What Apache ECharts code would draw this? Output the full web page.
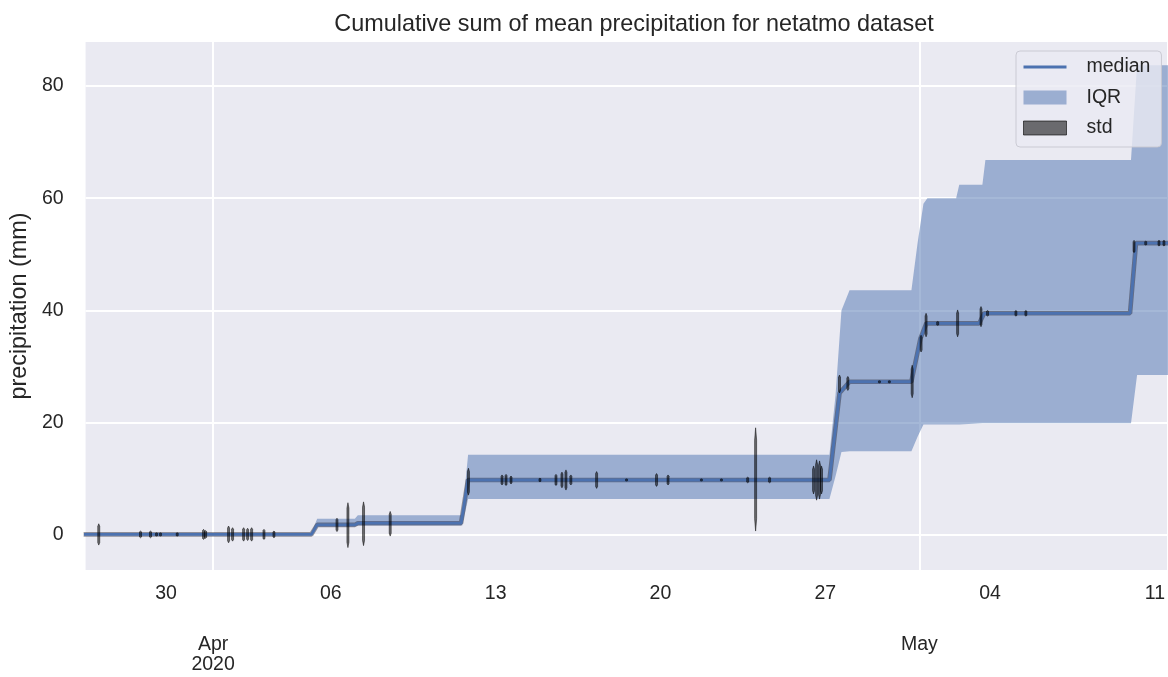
<!DOCTYPE html>
<html>
<head>
<meta charset="utf-8">
<script src="https://cdn.jsdelivr.net/npm/echarts@6/dist/echarts.min.js"></script>
<style>
  html, body { margin: 0; padding: 0; background: #ffffff; }
  #chart { width: 1168px; height: 677px; }
</style>
</head>
<body>
<div id="chart"></div>
<script>
// Median of the cumulative precipitation (mm): breakpoints of the step curve
const medianPoints = [
  ['2020-03-26 12:00', 0.1],
  ['2020-04-05 04:05', 0.1],
  ['2020-04-05 10:05', 1.8],
  ['2020-04-07 00:30', 1.8],
  ['2020-04-07 03:30', 2.1],
  ['2020-04-11 12:45', 2.1],
  ['2020-04-11 19:45', 9.8],
  ['2020-04-27 04:15', 9.8],
  ['2020-04-27 14:35', 25.3],
  ['2020-04-28 00:45', 27.3],
  ['2020-04-30 15:45', 27.3],
  ['2020-05-01 01:00', 35.0],
  ['2020-05-01 07:00', 37.7],
  ['2020-05-03 12:55', 37.7],
  ['2020-05-03 17:55', 39.5],
  ['2020-05-09 22:40', 39.5],
  ['2020-05-10 04:45', 52.0],
  ['2020-05-11 23:00', 52.0]
];

// Interquartile range: [time, 25th percentile, 75th percentile]
const iqrPoints = [
  ['2020-03-26 12:00', 0.0, 0.3],
  ['2020-04-05 04:05', 0.0, 0.3],
  ['2020-04-05 10:05', 1.5, 2.9],
  ['2020-04-07 00:30', 1.5, 2.9],
  ['2020-04-07 03:30', 1.7, 3.5],
  ['2020-04-11 13:55', 1.7, 3.5],
  ['2020-04-11 19:55', 6.4, 14.3],
  ['2020-04-27 04:15', 6.4, 14.3],
  ['2020-04-27 10:30', 10.5, 25.0],
  ['2020-04-27 16:30', 14.8, 40.0],
  ['2020-04-28 00:45', 14.9, 43.6],
  ['2020-04-30 15:50', 14.9, 43.6],
  ['2020-04-30 22:05', 17.5, 52.0],
  ['2020-05-01 04:05', 19.7, 59.0],
  ['2020-05-01 08:05', 19.7, 60.0],
  ['2020-05-02 13:25', 19.7, 60.0],
  ['2020-05-02 16:35', 19.7, 62.4],
  ['2020-05-03 16:10', 19.9, 62.4],
  ['2020-05-03 19:15', 19.9, 66.8],
  ['2020-05-09 23:40', 19.9, 66.8],
  ['2020-05-10 05:50', 28.5, 83.7],
  ['2020-05-11 23:00', 28.5, 83.7]
];

// Standard deviation bursts around the median: [time, centre, std]
const stdSpikes = [
  ['2020-03-27 03:25', 0.1, 1.9],
  ['2020-03-28 22:00', 0.1, 0.6],
  ['2020-03-29 08:10', 0.1, 0.6],
  ['2020-03-29 14:20', 0.1, 0.3],
  ['2020-03-29 18:20', 0.1, 0.3],
  ['2020-03-30 11:25', 0.1, 0.3],
  ['2020-03-31 14:15', 0.1, 0.9],
  ['2020-03-31 16:20', 0.1, 0.7],
  ['2020-04-01 15:45', 0.1, 1.5],
  ['2020-04-01 19:50', 0.1, 1.2],
  ['2020-04-02 07:05', 0.1, 1.2],
  ['2020-04-02 11:10', 0.1, 1.1],
  ['2020-04-02 15:15', 0.1, 1.2],
  ['2020-04-03 03:50', 0.1, 0.9],
  ['2020-04-03 14:00', 0.1, 0.6],
  ['2020-04-06 06:15', 1.8, 1.2],
  ['2020-04-06 17:25', 1.75, 4.0],
  ['2020-04-07 09:20', 2.0, 3.9],
  ['2020-04-08 12:30', 2.0, 2.2],
  ['2020-04-11 20:15', 9.5, 2.4],
  ['2020-04-13 06:30', 9.8, 0.9],
  ['2020-04-13 10:35', 9.8, 1.0],
  ['2020-04-13 15:40', 9.8, 0.7],
  ['2020-04-14 21:10', 9.8, 0.3],
  ['2020-04-15 13:30', 9.8, 1.0],
  ['2020-04-15 19:35', 9.8, 1.4],
  ['2020-04-15 23:40', 9.8, 1.8],
  ['2020-04-16 04:40', 9.8, 0.9],
  ['2020-04-17 06:55', 9.8, 1.5],
  ['2020-04-18 13:25', 9.8, 0.2],
  ['2020-04-19 20:00', 9.8, 1.15],
  ['2020-04-20 07:45', 9.8, 0.9],
  ['2020-04-21 17:45', 9.8, 0.2],
  ['2020-04-22 14:10', 9.8, 0.2],
  ['2020-04-23 16:55', 9.8, 0.5],
  ['2020-04-24 01:00', 9.9, 9.2],
  ['2020-04-24 15:15', 9.8, 0.5],
  ['2020-04-26 12:05', 9.8, 2.5],
  ['2020-04-26 15:10', 9.8, 3.6],
  ['2020-04-26 18:10', 9.8, 3.4],
  ['2020-04-26 20:10', 9.8, 2.5],
  ['2020-04-27 14:30', 26.9, 1.6],
  ['2020-04-27 23:00', 27.0, 1.25],
  ['2020-04-29 07:15', 27.3, 0.2],
  ['2020-04-29 17:20', 27.3, 0.2],
  ['2020-04-30 16:35', 27.35, 2.9],
  ['2020-05-01 01:40', 34.1, 1.5],
  ['2020-05-01 06:45', 37.4, 2.1],
  ['2020-05-01 18:35', 37.7, 0.35],
  ['2020-05-02 14:55', 37.7, 2.4],
  ['2020-05-03 14:45', 38.9, 1.8],
  ['2020-05-03 21:25', 39.5, 0.5],
  ['2020-05-05 02:20', 39.5, 0.5],
  ['2020-05-05 12:30', 39.5, 0.5],
  ['2020-05-10 02:45', 51.4, 1.1],
  ['2020-05-10 14:40', 52.0, 0.35],
  ['2020-05-11 04:10', 52.0, 0.5],
  ['2020-05-11 09:15', 52.0, 0.5]
];

// Axis ticks
const weekTicks = ['2020-03-30', '2020-04-06', '2020-04-13', '2020-04-20', '2020-04-27', '2020-05-04', '2020-05-11'];
const monthTicks = ['2020-04-01', '2020-05-01'];
const monthLabels = ['Apr\n2020', 'May'];
const yTicks = [0, 20, 40, 60, 80];

const xStart = '2020-03-26 14:00';
const xEnd = '2020-05-11 12:20';

function toMs(s) {
  const [d, tm = '00:00'] = s.split(' ');
  const [Y, M, D] = d.split('-').map(Number);
  const [h, m] = tm.split(':').map(Number);
  return Date.UTC(Y, M - 1, D, h, m);
}

const FONT = 'Liberation Sans, Arial, Helvetica, sans-serif';
const TEXT = '#262626';
const BLUE = '#4c72b0';
const IQR_FILL = 'rgba(76,114,176,0.5)';
const STD_FILL = 'rgba(0,0,0,0.55)';

const weekMs = weekTicks.map(toMs);
const monthMs = monthTicks.map(toMs);
const medianData = medianPoints.map(([t, v]) => [toMs(t), v]);
const iqrData = iqrPoints.map(([t, lo, hi]) => [toMs(t), lo, hi]);
const stdData = stdSpikes.map(([t, c, s]) => [toMs(t), c, s]);

const chart = echarts.init(document.getElementById('chart'), null, { renderer: 'canvas' });

chart.setOption({
  animation: false,
  backgroundColor: '#ffffff',
  textStyle: { fontFamily: FONT },
  title: {
    text: 'Cumulative sum of mean precipitation for netatmo dataset',
    left: 629, textAlign: 'center', top: 8,
    textStyle: { fontFamily: FONT, fontSize: 23.4, fontWeight: 'normal', color: TEXT }
  },
  grid: {
    left: 85, right: 0, top: 42, bottom: 107,
    show: true, backgroundColor: '#eaeaf2', borderWidth: 0
  },
  legend: {
    orient: 'vertical', left: 1016, top: 51,
    padding: [5, 11, 8, 7],
    itemWidth: 43, itemHeight: 14, itemGap: 8.5,
    backgroundColor: 'rgba(234,234,242,0.8)',
    borderColor: 'rgba(200,200,208,0.9)', borderWidth: 1, borderRadius: 4,
    selectedMode: false,
    textStyle: { fontFamily: FONT, fontSize: 19.5, color: TEXT, lineHeight: 22, padding: [0, 0, 0, 15] },
    data: [
      { name: 'median', icon: 'path://M0,0L43,0L43,3L0,3Z', itemStyle: { color: BLUE, borderWidth: 0 } },
      { name: 'IQR', icon: 'rect', itemStyle: { color: IQR_FILL, borderWidth: 0 } },
      { name: 'std', icon: 'rect', itemStyle: { color: STD_FILL, borderColor: 'rgba(0,0,0,0.6)', borderWidth: 1 } }
    ]
  },
  xAxis: [
    {
      type: 'value', min: toMs(xStart), max: toMs(xEnd),
      axisLine: { show: false },
      axisTick: { show: false, customValues: monthMs },
      splitLine: { show: true, lineStyle: { color: '#ffffff', width: 2 } },
      axisLabel: {
        customValues: monthMs,
        formatter: (v) => monthLabels[monthMs.indexOf(v)] || '',
        margin: 65, fontSize: 19.5, lineHeight: 20, color: TEXT, fontFamily: FONT
      }
    },
    {
      type: 'value', min: toMs(xStart), max: toMs(xEnd), position: 'bottom',
      axisLine: { show: false },
      axisTick: { show: false, customValues: weekMs },
      splitLine: { show: false },
      axisLabel: {
        customValues: weekMs,
        formatter: (v) => String(new Date(v).getUTCDate()).padStart(2, '0'),
        margin: 14, fontSize: 19.5, lineHeight: 20, color: TEXT, fontFamily: FONT
      }
    }
  ],
  yAxis: {
    type: 'value', min: -6.24, max: 87.84,
    name: 'precipitation (mm)', nameLocation: 'middle', nameGap: 50,
    nameTextStyle: { fontFamily: FONT, fontSize: 23.4, color: TEXT },
    axisLine: { show: false },
    axisTick: { show: false, customValues: yTicks },
    splitLine: { show: true, lineStyle: { color: '#ffffff', width: 2 } },
    axisLabel: { customValues: yTicks, margin: 22, fontSize: 19.5, color: TEXT, fontFamily: FONT }
  },
  series: [
    {
      // IQR band: one polygon through the upper edge and back along the lower edge
      name: 'IQR', type: 'custom', data: iqrData, silent: true, clip: true, z: 1,
      itemStyle: { color: IQR_FILL },
      encode: { x: 0, y: [1, 2] },
      renderItem: (params, api) => {
        if (params.dataIndexInside !== 0) return null;
        const n = params.dataInsideLength;
        const upper = [], lower = [];
        for (let i = 0; i < n; i++) {
          const t = api.value(0, i);
          upper.push(api.coord([t, api.value(2, i)]));
          lower.push(api.coord([t, api.value(1, i)]));
        }
        return {
          type: 'polygon',
          shape: { points: upper.concat(lower.reverse()) },
          style: { fill: IQR_FILL }
        };
      }
    },
    {
      name: 'median-edge', type: 'line', data: medianData,
      symbol: 'none', silent: true,
      lineStyle: { color: 'rgba(30,30,45,0.45)', width: 4.6 }, z: 2
    },
    {
      name: 'median', type: 'line', data: medianData,
      symbol: 'none', showSymbol: false, silent: true, color: BLUE,
      lineStyle: { color: BLUE, width: 2.8 }, z: 3
    },
    {
      name: 'std', type: 'custom', data: stdData, silent: true, clip: true, z: 4,
      itemStyle: { color: STD_FILL },
      encode: { x: 0, y: 1 },
      renderItem: (params, api) => {
        const t = api.value(0), c = api.value(1), s = api.value(2);
        const top = api.coord([t, c + s]);
        const bot = api.coord([t, c - s]);
        const h = bot[1] - top[1];
        const w = 1.0;
        const x = top[0];
        return {
          type: 'polygon',
          shape: { points: [
            [x, top[1]], [x + w, top[1] + h * 0.12], [x + w, top[1] + h * 0.88],
            [x, bot[1]], [x - w, top[1] + h * 0.88], [x - w, top[1] + h * 0.12]
          ] },
          style: { fill: STD_FILL, stroke: 'rgba(0,0,0,0.6)', lineWidth: 0.8 }
        };
      }
    }
  ]
});
</script>
</body>
</html>
